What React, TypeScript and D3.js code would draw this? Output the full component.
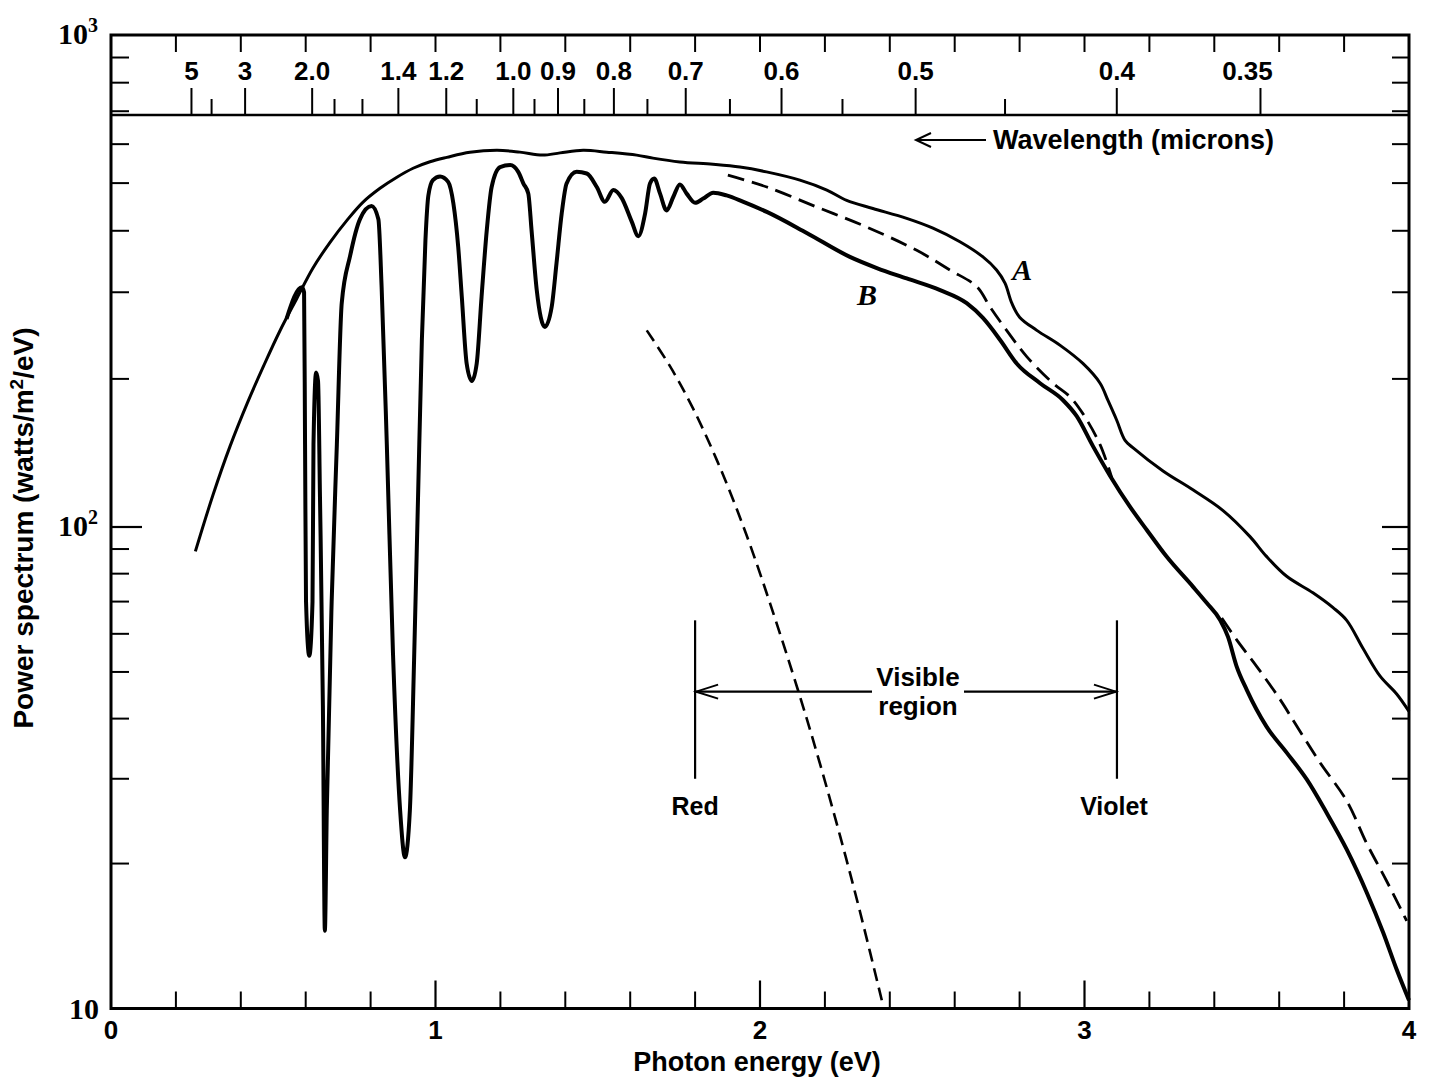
import React from 'react';
import * as d3 from 'd3';

// ---------- DATA (photon energy in eV, power spectrum in W/m^2/eV) ----------
// Curve A: smooth outer envelope (sun above the atmosphere)
const curveA: [number, number][] = [
  [0.26, 89], [0.314, 116], [0.367, 146], [0.42, 178.6], [0.47, 212.3], [0.52, 250], [0.573, 291.7],
  [0.622, 335.7], [0.675, 379], [0.727, 420], [0.776, 457], [0.829, 488], [0.881, 514], [0.931, 536],
  [0.983, 552.5], [1.035, 564], [1.106, 577.5], [1.19, 583], [1.26, 578], [1.33, 570], [1.384, 576],
  [1.455, 583], [1.528, 578], [1.62, 570], [1.67, 562], [1.753, 552], [1.855, 546], [1.938, 539],
  [2.02, 527], [2.123, 507], [2.206, 484], [2.267, 461], [2.348, 444], [2.452, 424], [2.533, 405],
  [2.616, 380], [2.687, 354], [2.729, 333], [2.755, 313], [2.776, 285], [2.8, 267], [2.853, 251],
  [2.925, 234], [2.995, 215], [3.048, 196], [3.072, 181], [3.099, 165], [3.125, 150], [3.149, 145],
  [3.242, 130], [3.334, 119], [3.427, 108], [3.51, 95.5], [3.56, 87], [3.623, 79], [3.704, 73],
  [3.766, 68], [3.808, 64], [3.858, 56], [3.911, 49], [3.962, 45], [4.0, 41.4],
];

// Curve B: spectrum at sea level, with the atmospheric absorption bands
const curveB: [number, number][] = [
  [0.541, 265], [0.588, 307], [0.595, 300], [0.598, 147], [0.601, 70], [0.611, 54], [0.621, 70],
  [0.624, 147], [0.632, 206], [0.638, 198], [0.644, 115], [0.653, 42.5], [0.659, 14.5], [0.665, 25.8],
  [0.68, 70], [0.696, 147], [0.711, 285], [0.737, 356], [0.767, 422], [0.803, 449], [0.824, 422],
  [0.834, 307], [0.85, 147], [0.869, 54.6], [0.891, 25.8], [0.906, 20.6], [0.921, 25.8], [0.934, 52.9],
  [0.946, 113.5], [0.958, 240], [0.969, 383], [0.978, 472], [0.992, 507], [1.014, 516], [1.039, 503],
  [1.055, 455], [1.07, 371], [1.081, 294], [1.096, 215], [1.112, 198], [1.127, 215], [1.142, 294],
  [1.158, 401], [1.173, 491], [1.199, 539], [1.23, 544], [1.255, 527], [1.271, 499], [1.286, 476],
  [1.296, 401], [1.312, 303], [1.337, 255], [1.358, 280], [1.373, 344], [1.389, 434], [1.404, 499],
  [1.435, 527], [1.466, 523], [1.497, 491], [1.522, 458], [1.548, 484], [1.574, 466], [1.605, 417],
  [1.625, 390], [1.646, 434], [1.661, 499], [1.674, 511], [1.692, 476], [1.712, 440], [1.733, 469],
  [1.753, 497], [1.774, 476], [1.8, 456], [1.825, 465], [1.856, 478], [1.897, 472], [1.949, 458],
  [2.021, 437], [2.144, 396], [2.277, 354], [2.36, 336], [2.452, 320], [2.555, 303], [2.637, 285],
  [2.687, 266], [2.74, 240], [2.791, 215], [2.863, 196], [2.934, 181], [2.976, 168], [3.026, 146],
  [3.079, 127], [3.14, 110], [3.192, 98.6], [3.253, 86.8], [3.334, 75.2], [3.377, 69.5], [3.418, 64.1],
  [3.442, 59.2], [3.469, 51.3], [3.5, 45.9], [3.561, 38.5], [3.623, 34.0], [3.685, 29.9], [3.746, 25.5],
  [3.808, 21.4], [3.87, 17.4], [3.92, 14.4], [3.962, 12.05], [4.0, 10.4],
];

// Upper dashed curve (two visible pieces; in between it runs under curve B)
const dashedUpperVisible: [number, number][] = [
  [1.901, 519], [2.021, 491], [2.175, 447], [2.329, 407], [2.483, 365], [2.585, 333], [2.668, 308],
  [2.709, 280], [2.76, 251], [2.822, 222], [2.903, 196], [2.955, 184], [2.995, 170], [3.048, 147],
  [3.084, 126],
];
const dashedUpperUV: [number, number][] = [
  [3.423, 64.7], [3.469, 58.3], [3.531, 51.3], [3.603, 43.8], [3.654, 38.6], [3.726, 32.4],
  [3.808, 27.0], [3.87, 22.0], [3.931, 18.4], [3.993, 15.2],
];

// Lower dashed curve
const dashedLower: [number, number][] = [
  [1.651, 251], [1.723, 212], [1.794, 174], [1.877, 132], [1.959, 96], [2.031, 69.4],
  [2.123, 44.5], [2.185, 32.2], [2.247, 22.8], [2.308, 15.9], [2.38, 10.1],
];

// Axis ticks
const energyMinorTicks = [0.2, 0.4, 0.6, 0.8, 1.2, 1.4, 1.6, 1.8, 2.2, 2.4, 2.6, 2.8, 3.2, 3.4, 3.6, 3.8];
const energyMajorTicks = [1, 2, 3];
const energyTopTicks = [0.2, 0.4, 0.6, 0.8, 1.0, 1.2, 1.4, 1.6, 1.8, 2.0, 2.2, 2.4, 2.6, 2.8, 3.0, 3.2, 3.4, 3.6, 3.8];
const energyLabels = ['0', '1', '2', '3', '4'];
const energyLabelValues = [0, 1, 2, 3, 4];

const powerMinorTicks = [20, 30, 40, 50, 60, 70, 80, 90, 200, 300, 400, 500, 600, 700, 800, 900];
const powerMajorTicks = [100];

const wavelengthMajor = [5, 3, 2.0, 1.4, 1.2, 1.0, 0.9, 0.8, 0.7, 0.6, 0.5, 0.4, 0.35];
const wavelengthLabels = ['5', '3', '2.0', '1.4', '1.2', '1.0', '0.9', '0.8', '0.7', '0.6', '0.5', '0.4', '0.35'];
const wavelengthMinor = [4, 1.8, 1.6, 1.1, 0.95, 0.85, 0.75, 0.65, 0.55, 0.45];
const HC = 1.2398; // eV·µm

// Visible region (eV) and annotation levels (W/m^2/eV)
const visibleRange = [1.8, 3.1];
const visibleBracket = [30, 64];
const visibleArrowLevel = 45.5;

const SANS = "'Liberation Sans', Arial, Helvetica, sans-serif";
const SERIF = "'Liberation Serif', 'Times New Roman', serif";

export default function App() {
  const W = 1429;
  const H = 1078;
  const left = 111;
  const right = 1409;
  const top = 35;
  const bottom = 1008.5;
  const bandY = 115;

  const x = d3.scaleLinear().domain([0, 4]).range([left, right]);
  const y = d3.scaleLog().domain([10, 100, 1000]).range([bottom, 527, top]);

  const lineMono = d3
    .line<[number, number]>()
    .x((d) => x(d[0]))
    .y((d) => y(d[1]))
    .curve(d3.curveMonotoneX);
  const lineSmooth = d3
    .line<[number, number]>()
    .x((d) => x(d[0]))
    .y((d) => y(d[1]))
    .curve(d3.curveCatmullRom.alpha(0.5));

  const xRed = x(visibleRange[0]);
  const xViolet = x(visibleRange[1]);
  const yArrow = y(visibleArrowLevel);
  const textCx = 918;
  const gapHalf = 46;

  return (
    <div style={{ position: 'absolute', left: 0, top: 0 }}>
      <svg width={W} height={H} style={{ display: 'block', background: '#fff' }}>
        <rect x={0} y={0} width={W} height={H} fill="#fff" />

        {/* frame */}
        <rect x={left} y={top} width={right - left} height={bottom - top} fill="none" stroke="#000" strokeWidth={3} />
        <line x1={left} x2={right} y1={bandY} y2={bandY} stroke="#000" strokeWidth={2.6} />

        {/* left & right power ticks */}
        {powerMinorTicks.map((v) => (
          <g key={'pm' + v}>
            <line x1={left} x2={left + 18} y1={y(v)} y2={y(v)} stroke="#000" strokeWidth={2} />
            <line x1={right} x2={right - 17} y1={y(v)} y2={y(v)} stroke="#000" strokeWidth={2} />
          </g>
        ))}
        {powerMajorTicks.map((v) => (
          <g key={'pM' + v}>
            <line x1={left} x2={left + 31} y1={y(v)} y2={y(v)} stroke="#000" strokeWidth={2.2} />
            <line x1={right} x2={right - 27} y1={y(v)} y2={y(v)} stroke="#000" strokeWidth={2.2} />
          </g>
        ))}

        {/* bottom energy ticks */}
        {energyMinorTicks.map((e) => (
          <line key={'em' + e} x1={x(e)} x2={x(e)} y1={bottom} y2={bottom - 17} stroke="#000" strokeWidth={2} />
        ))}
        {energyMajorTicks.map((e) => (
          <line key={'eM' + e} x1={x(e)} x2={x(e)} y1={bottom} y2={bottom - 28} stroke="#000" strokeWidth={2.2} />
        ))}
        {/* top energy ticks (hanging from top border) */}
        {energyTopTicks.map((e) => (
          <line key={'et' + e} x1={x(e)} x2={x(e)} y1={top} y2={top + 17} stroke="#000" strokeWidth={2} />
        ))}

        {/* wavelength ticks rising from the band line */}
        {wavelengthMajor.map((w) => (
          <line key={'wM' + w} x1={x(HC / w)} x2={x(HC / w)} y1={bandY} y2={bandY - 27} stroke="#000" strokeWidth={2} />
        ))}
        {wavelengthMinor.map((w) => (
          <line key={'wm' + w} x1={x(HC / w)} x2={x(HC / w)} y1={bandY} y2={bandY - 16} stroke="#000" strokeWidth={2} />
        ))}
        {wavelengthMajor.map((w, i) => (
          <text
            key={'wl' + w}
            x={x(HC / w)}
            dx={wavelengthLabels[i] === '0.35' ? -13 : 0}
            y={80}
            textAnchor="middle"
            fontFamily={SANS}
            fontWeight={700}
            fontSize={26}
          >
            {wavelengthLabels[i]}
          </text>
        ))}

        {/* wavelength caption */}
        <line x1={916} x2={986} y1={140} y2={140} stroke="#000" strokeWidth={2} />
        <path d="M931,133 L916,140 L931,147" fill="none" stroke="#000" strokeWidth={2} />
        <text x={993} y={149} fontFamily={SANS} fontWeight={700} fontSize={27}>
          Wavelength (microns)
        </text>

        {/* y labels */}
        <text x={98} y={y(1000) + 9} textAnchor="end" fontFamily={SERIF} fontWeight={700} fontSize={30}>
          10<tspan dy={-12} fontSize={20}>3</tspan>
        </text>
        <text x={98} y={y(100) + 9} textAnchor="end" fontFamily={SERIF} fontWeight={700} fontSize={30}>
          10<tspan dy={-12} fontSize={20}>2</tspan>
        </text>
        <text x={99} y={y(10) + 10} textAnchor="end" fontFamily={SERIF} fontWeight={700} fontSize={30}>
          10
        </text>

        {/* x labels */}
        {energyLabelValues.map((e, i) => (
          <text key={'xl' + e} x={x(e)} y={1039} textAnchor="middle" fontFamily={SANS} fontWeight={700} fontSize={26}>
            {energyLabels[i]}
          </text>
        ))}
        <text x={757} y={1071} textAnchor="middle" fontFamily={SANS} fontWeight={700} fontSize={27}>
          Photon energy (eV)
        </text>
        <text
          transform={`translate(33,528) rotate(-90)`}
          textAnchor="middle"
          fontFamily={SANS}
          fontWeight={700}
          fontSize={28}
        >
          Power spectrum (watts/m<tspan dy={-10} fontSize={19}>2</tspan>
          <tspan dy={10}>/eV)</tspan>
        </text>

        {/* curves */}
        <path d={lineSmooth(curveA) ?? ''} fill="none" stroke="#000" strokeWidth={3} strokeLinejoin="round" />
        <path d={lineMono(curveB) ?? ''} fill="none" stroke="#000" strokeWidth={4} strokeLinejoin="round" />
        <path d={lineSmooth(dashedUpperVisible) ?? ''} fill="none" stroke="#000" strokeWidth={2.8} strokeDasharray="17 8" />
        <path d={lineSmooth(dashedUpperUV) ?? ''} fill="none" stroke="#000" strokeWidth={2.8} strokeDasharray="17 8" />
        <path d={lineSmooth(dashedLower) ?? ''} fill="none" stroke="#000" strokeWidth={2.6} strokeDasharray="13 7" />

        {/* curve labels */}
        <text x={x(2.777)} y={y(318)} fontFamily={SERIF} fontWeight={700} fontStyle="italic" fontSize={30}>
          A
        </text>
        <text x={x(2.299)} y={y(282)} fontFamily={SERIF} fontWeight={700} fontStyle="italic" fontSize={30}>
          B
        </text>

        {/* visible region annotation */}
        <line x1={xRed} x2={xRed} y1={y(visibleBracket[1])} y2={y(visibleBracket[0])} stroke="#000" strokeWidth={2.2} />
        <line x1={xViolet} x2={xViolet} y1={y(visibleBracket[1])} y2={y(visibleBracket[0])} stroke="#000" strokeWidth={2.2} />
        <line x1={xRed} x2={textCx - gapHalf} y1={yArrow} y2={yArrow} stroke="#000" strokeWidth={2.2} />
        <line x1={textCx + gapHalf} x2={xViolet} y1={yArrow} y2={yArrow} stroke="#000" strokeWidth={2.2} />
        <path d={`M${xRed + 23},${yArrow - 7} L${xRed + 1},${yArrow} L${xRed + 23},${yArrow + 7}`} fill="none" stroke="#000" strokeWidth={2} />
        <path d={`M${xViolet - 23},${yArrow - 7} L${xViolet - 1},${yArrow} L${xViolet - 23},${yArrow + 7}`} fill="none" stroke="#000" strokeWidth={2} />
        <text x={textCx} y={686} textAnchor="middle" fontFamily={SANS} fontWeight={700} fontSize={26}>
          Visible
        </text>
        <text x={textCx} y={715} textAnchor="middle" fontFamily={SANS} fontWeight={700} fontSize={26}>
          region
        </text>
        <text x={xRed} y={815} textAnchor="middle" fontFamily={SANS} fontWeight={700} fontSize={25}>
          Red
        </text>
        <text x={xViolet - 3} y={815} textAnchor="middle" fontFamily={SANS} fontWeight={700} fontSize={25}>
          Violet
        </text>
      </svg>
    </div>
  );
}
